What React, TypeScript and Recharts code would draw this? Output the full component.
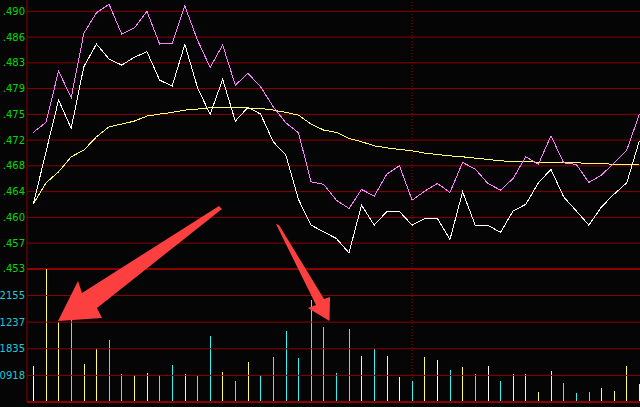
import { Bar, ComposedChart, Line, ReferenceLine, XAxis, YAxis } from "recharts";

// intraday minutes shown (index along the time axis)
const minutes = [
  0, 1, 2, 3, 4, 5, 6, 7, 8, 9, 10, 11, 12, 13, 14, 15, 16, 17, 18, 19, 20, 21, 22, 23, 24,
  25, 26, 27, 28, 29, 30, 31, 32, 33, 34, 35, 36, 37, 38, 39, 40, 41, 42, 43, 44, 45, 46, 47, 48,
];

// white: last price
const lastPrice = [
  0.46230, 0.46977, 0.47725, 0.47318, 0.48204, 0.48530, 0.48314, 0.48228, 0.48339, 0.48419,
  0.48012, 0.47926, 0.48526, 0.47907, 0.47519, 0.48022, 0.47423, 0.47620, 0.47524, 0.47126,
  0.46934, 0.46298, 0.45928, 0.45832, 0.45737, 0.45530, 0.46216, 0.45928, 0.46125, 0.46125,
  0.45928, 0.46024, 0.46024, 0.45723, 0.46407, 0.45928, 0.45928, 0.45823, 0.46134, 0.46226,
  0.46536, 0.46729, 0.46335, 0.46134, 0.45928, 0.46191, 0.46374, 0.46536, 0.47140,
];

// violet: reference index line
const indexLine = [
  0.47261, 0.47404, 0.48142, 0.47758, 0.48684, 0.48980, 0.49101, 0.48674, 0.48760, 0.49000,
  0.48530, 0.48540, 0.49076, 0.48587, 0.48195, 0.48515, 0.47940, 0.48109, 0.47916, 0.47629,
  0.47399, 0.47255, 0.46551, 0.46513, 0.46287, 0.46168, 0.46441, 0.46345, 0.46661, 0.46781,
  0.46287, 0.46417, 0.46528, 0.46398, 0.46829, 0.46733, 0.46528, 0.46431, 0.46599, 0.46910,
  0.46801, 0.47212, 0.46824, 0.46801, 0.46542, 0.46647, 0.46824, 0.47006, 0.47519,
];

// yellow: average price
const avgPrice = [
  0.46230, 0.46536, 0.46694, 0.46910, 0.47006, 0.47197, 0.47341, 0.47380, 0.47423, 0.47495,
  0.47524, 0.47548, 0.47581, 0.47596, 0.47614, 0.47620, 0.47620, 0.47610, 0.47606, 0.47581,
  0.47548, 0.47509, 0.47380, 0.47294, 0.47261, 0.47174, 0.47126, 0.47068, 0.47039, 0.47016,
  0.46996, 0.46963, 0.46944, 0.46924, 0.46910, 0.46891, 0.46873, 0.46852, 0.46844, 0.46838,
  0.46834, 0.46830, 0.46830, 0.46824, 0.46815, 0.46809, 0.46805, 0.46801, 0.46801,
];

const volume = [
  14740, 54480, 32750, 33850, 15500, 21620, 25330, 11460, 10920, 11790,
  10920, 15180, 11350, 10590, 27080, 12230, 8520, 16270, 10920, 18340,
  29040, 17910, 41710, 30790, 11790, 29920, 18780, 21620, 18780, 10150,
  8520, 18340, 17140, 12990, 14190, 11350, 14630, 8520, 11350, 11350,
  3930, 12560, 7640, 3600, 3930, 5570, 4370, 14630, 7320,
];

// w = flat, y = up, c = down
const volTone = [
  "w", "y", "y", "c", "y", "y", "c", "c", "y", "y",
  "c", "c", "y", "c", "c", "y", "c", "y", "c", "c",
  "c", "c", "c", "c", "c", "c", "y", "c", "y", "w",
  "c", "y", "w", "c", "y", "c", "w", "c", "y", "y",
  "y", "y", "c", "c", "c", "y", "y", "y", "y",
];

const priceTicks = [0.49, 0.4863, 0.4826, 0.4789, 0.4752, 0.4715, 0.4678, 0.4641, 0.4604, 0.4567, 0.453];
const priceLabels = [".490", ".486", ".483", ".479", ".475", ".472", ".468", ".464", ".460", ".457", ".453"];
const volTicks = [10918, 21836, 32754, 43672];
const volLabels = ["0918", "1835", "1237", "2155"];

const rows = minutes.map((m, i) => ({
  m,
  last: lastPrice[i],
  index: indexLine[i],
  avg: avgPrice[i],
  vol: volume[i],
}));

const GRID = "#8c0000";
const toneColor: Record<string, string> = { w: "#ffffff", y: "#ffff70", c: "#30f4f4" };
const font = "DejaVu Sans, Verdana, sans-serif";
const W = 640;
const H = 407;
const margin = { top: 0, right: 0, bottom: 5, left: 0 };

const VolBar = (props: any) => {
  const { x, y, width, height, index } = props;
  if (!height || height <= 0) return null;
  return (
    <rect
      x={Math.floor(x + width / 2)}
      y={y}
      width={1}
      height={height}
      fill={toneColor[volTone[index]]}
      shapeRendering="crispEdges"
    />
  );
};

export default function App() {
  return (
    <div style={{ position: "absolute", left: 0, top: 0, width: W, height: H, overflow: "hidden", background: "#050505" }}>
      {/* price panel */}
      <div style={{ position: "absolute", left: 0, top: 0 }}>
        <ComposedChart width={W} height={H} data={rows} margin={margin}>
          <XAxis dataKey="m" type="number" domain={[-0.5, 48.05]} hide />
          <YAxis
            yAxisId="p"
            width={27}
            domain={[0.433882, 0.491623]}
            allowDataOverflow
            ticks={priceTicks}
            interval={0}
            tickSize={0}
            tickMargin={2}
            tickFormatter={(v: number) => priceLabels[priceTicks.indexOf(v)]}
            tick={{ fill: "#00dc00", fontSize: 10, fontFamily: font }}
            axisLine={{ stroke: GRID, strokeWidth: 1 }}
            tickLine={false}
          />
          {priceTicks.map((t) => (
            <ReferenceLine key={t} yAxisId="p" y={t} stroke={GRID} strokeWidth={t === 0.453 ? 2 : 1} />
          ))}
          <ReferenceLine yAxisId="p" x={30} stroke={GRID} strokeDasharray="1 2" />
          <Line yAxisId="p" dataKey="avg" stroke="#ffff70" strokeWidth={1} dot={false} isAnimationActive={false} shapeRendering="crispEdges" />
          <Line yAxisId="p" dataKey="index" stroke="#ff80ff" strokeWidth={1} dot={false} isAnimationActive={false} shapeRendering="crispEdges" />
          <Line yAxisId="p" dataKey="last" stroke="#ffffff" strokeWidth={1} dot={false} isAnimationActive={false} shapeRendering="crispEdges" />
        </ComposedChart>
      </div>

      {/* volume panel */}
      <div style={{ position: "absolute", left: 0, top: 0 }}>
        <ComposedChart width={W} height={H} data={rows} margin={margin}>
          <XAxis dataKey="m" type="number" domain={[-0.5, 48.05]} hide />
          <YAxis
            width={27}
            domain={[0, 164878]}
            allowDataOverflow
            ticks={volTicks}
            interval={0}
            tickSize={0}
            tickMargin={2}
            tickFormatter={(v: number) => volLabels[volTicks.indexOf(v)]}
            tick={{ fill: "#20c8d8", fontSize: 10, fontFamily: font }}
            axisLine={false}
            tickLine={false}
          />
          {volTicks.map((t) => (
            <ReferenceLine key={t} y={t} stroke={GRID} strokeWidth={1} />
          ))}
          <ReferenceLine y={0} stroke={GRID} strokeWidth={2} />
          <Bar dataKey="vol" barSize={1} shape={VolBar} isAnimationActive={false} />
        </ComposedChart>
      </div>

      {/* annotation arrows */}
      <svg width={W} height={H} style={{ position: "absolute", left: 0, top: 0 }}>
        <polygon points="219,206 222,209 97,308 102,318 58,321 78,281 82,293" fill="#fc4040" />
        <polygon points="276,224 279,225 324,299 330,297 329.5,321 308,308 316,305" fill="#fc4040" />
      </svg>
    </div>
  );
}
